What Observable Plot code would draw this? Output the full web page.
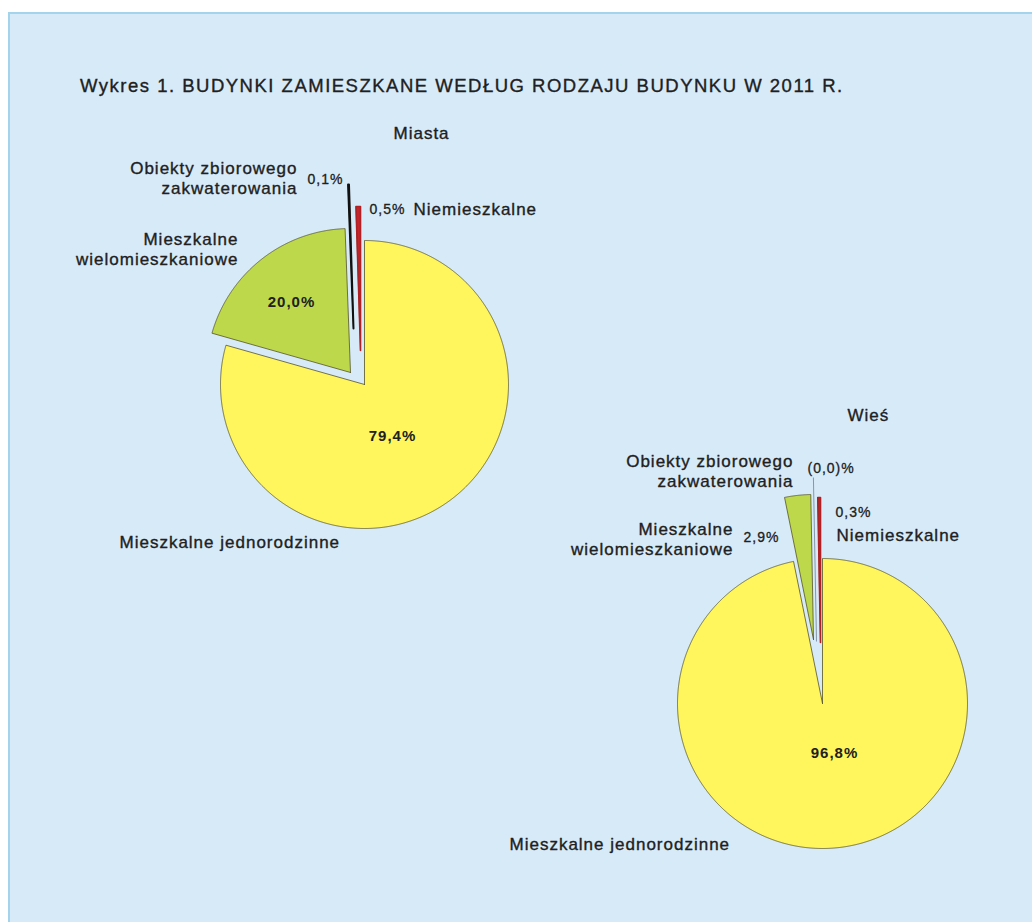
<!DOCTYPE html>
<html><head><meta charset="utf-8">
<script src="https://cdn.jsdelivr.net/npm/d3@7"></script>
<script src="https://cdn.jsdelivr.net/npm/@observablehq/plot@0.6"></script>
<style>
html,body{margin:0;padding:0;background:#fff;width:1032px;height:922px;overflow:hidden}
#panel{position:absolute;left:8px;top:12px;width:1024px;height:910px;background:#d7eaf8;border-left:2px solid #a3d4ec;border-top:2px solid #a3d4ec;box-sizing:border-box}
#title{position:absolute;left:80px;top:77px;font:18.5px/18px "Liberation Sans",Arial,sans-serif;letter-spacing:1.5px;color:#202020;white-space:nowrap;-webkit-text-stroke:0.35px #202020}
#chart{position:absolute;left:0;top:0}
#chart svg{background:transparent}
#chart text{letter-spacing:1px}
</style></head>
<body>
<div id="panel"></div>
<div id="title">Wykres 1. BUDYNKI ZAMIESZKANE WEDŁUG RODZAJU BUDYNKU W 2011 R.</div>
<div id="chart"></div>
<script>
// ---- data ----
const categories = ["Mieszkalne jednorodzinne", "Mieszkalne wielomieszkaniowe", "Obiekty zbiorowego zakwaterowania", "Niemieszkalne"];
const categoryLabels = ["Mieszkalne jednorodzinne", "Mieszkalne\nwielomieszkaniowe", "Obiekty zbiorowego\nzakwaterowania", "Niemieszkalne"];
const panelNames = ["Miasta", "Wieś"];
const miastaValues = [79.4, 20.0, 0.1, 0.5];
const wiesValues = [96.8, 2.9, 0.0, 0.3];
const miastaPctLabels = ["79,4%", "20,0%", "0,1%", "0,5%"];
const wiesPctLabels = ["96,8%", "2,9%", "(0,0)%", "0,3%"];
const colors = ["#fff55c", "#bdd84a", "#1a1a1a", "#c3272c"];

// ---- layout ----
const pies = [
  {name: panelNames[0], values: miastaValues, pct: miastaPctLabels, cx: 364, cy: 384, r: 144,
   explode: [[0,0],[-14,-12],[-11,-56],[-4,-34]],
   namePos: [393,133],
   catPos: [[119,541,"start"],[238,248,"end"],[297,177,"end"],[413,208,"start"]],
   pctPos: [[392,436,"middle",true],[291,302,"middle",true],[307,179,"start",false],[369,209,"start",false]]},
  {name: panelNames[1], values: wiesValues, pct: wiesPctLabels, cx: 822, cy: 703, r: 145,
   explode: [[0,0],[-9,-64],[-6,-62],[-2,-61]],
   namePos: [847,415],
   catPos: [[509,843,"start"],[733,538,"end"],[793,470,"end"],[836,534,"start"]],
   pctPos: [[834,753,"middle",true],[743,537,"start",false],[807,468,"start",false],[835,512,"start",false]]}
];
const W = 1032, H = 922;

const slicePoints = [], zeroSlices = [];
pies.forEach(p => {
  const arcs = d3.pie().sort(null)(p.values);
  arcs.forEach((a, i) => {
    const [dx, dy] = p.explode[i];
    const ox = p.cx + dx, oy = p.cy + dy;
    const id = p.name + "-" + i;
    if (a.endAngle - a.startAngle <= 0) {
      const rr = p.r + 19;
      zeroSlices.push({x1: ox, y1: oy, x2: ox + rr * Math.sin(a.startAngle), y2: oy - rr * Math.cos(a.startAngle)});
      return;
    }
    slicePoints.push({id, cat: categories[i], x: ox, y: oy});
    const n = Math.max(2, Math.ceil((a.endAngle - a.startAngle) / (Math.PI / 720)));
    for (let k = 0; k <= n; k++) {
      const t = a.startAngle + (a.endAngle - a.startAngle) * k / n;
      slicePoints.push({id, cat: categories[i], x: ox + p.r * Math.sin(t), y: oy - p.r * Math.cos(t)});
    }
    slicePoints.push({id, cat: categories[i], x: ox, y: oy});
  });
});

const font = "'Liberation Sans', Arial, sans-serif";
const ink = "#202020";
const textMarks = [];
pies.forEach(p => {
  textMarks.push(Plot.text([p.name], {x: () => p.namePos[0], y: () => p.namePos[1], text: d => d, textAnchor: "start", lineAnchor: "middle", fontSize: 17, fill: ink, stroke: ink, strokeWidth: 0.35}));
  categoryLabels.forEach((lab, i) => {
    const [x, y, anchor] = p.catPos[i];
    textMarks.push(Plot.text([lab], {x: () => x, y: () => y, text: d => d, textAnchor: anchor, lineAnchor: "middle", lineHeight: 1.17, fontSize: 17, fill: ink, stroke: ink, strokeWidth: 0.35}));
  });
  p.pct.forEach((lab, i) => {
    const [x, y, anchor, inside] = p.pctPos[i];
    textMarks.push(Plot.text([lab], {x: () => x, y: () => y, text: d => d, textAnchor: anchor, lineAnchor: "middle", fontSize: inside ? 15 : 14, fontWeight: inside ? "bold" : "normal", fill: ink, stroke: inside ? "none" : ink, strokeWidth: 0.3}));
  });
});

const chart = Plot.plot({
  width: W, height: H, margin: 0,
  style: {fontFamily: font, background: "transparent", overflow: "visible"},
  x: {domain: [0, W], range: [0, W], axis: null},
  y: {domain: [0, H], range: [0, H], axis: null},
  color: {type: "ordinal", domain: categories, range: colors},
  marks: [
    Plot.line(slicePoints, {x: "x", y: "y", z: "id", fill: "cat", stroke: "#55532c", strokeWidth: 0.8, curve: "linear"}),
    Plot.line(slicePoints.filter(d => d.cat === categories[2]), {x: "x", y: "y", z: "id", stroke: "#111", strokeWidth: 2, curve: "linear"}),
    Plot.line(slicePoints.filter(d => d.cat === categories[3]), {x: "x", y: "y", z: "id", stroke: "#b02024", strokeWidth: 1.6, curve: "linear"}),
    Plot.link(zeroSlices, {x1: "x1", y1: "y1", x2: "x2", y2: "y2", stroke: "#8597a8", strokeWidth: 1}),
    ...textMarks
  ]
});
document.getElementById("chart").appendChild(chart);
</script>
</body></html>
